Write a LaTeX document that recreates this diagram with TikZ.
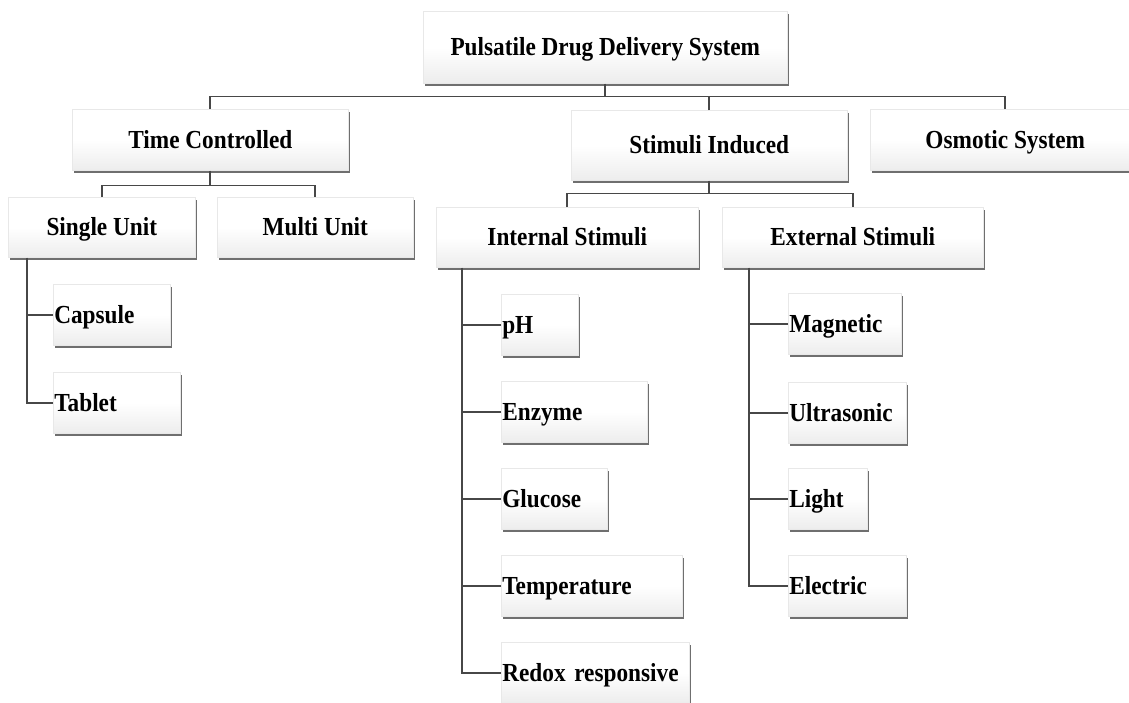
\documentclass[tikz,border=0pt]{standalone}
\usepackage{fontspec}
\setmainfont[FakeStretch=0.895]{Liberation Serif}
\usetikzlibrary{shadows}

\pgfdeclareverticalshading{boxshade}{100bp}{color(0bp)=(black!17); color(12bp)=(black!11); color(50bp)=(white); color(100bp)=(white)}
\definecolor{linegray}{HTML}{474747}

\tikzset{
  box/.style={anchor=north west, inner sep=0pt, shading=boxshade, draw=black!9, line width=0.6pt,
    font=\fontsize{26}{30}\selectfont\bfseries, text height=17pt, text depth=0pt,
    drop shadow={shadow xshift=1.3pt, shadow yshift=-2.4pt, fill=black!80, opacity=0.7}},
  leaf/.style={box, align=left, inner xsep=1pt},
  conn/.style={draw=linegray, line width=1.7pt}
}

% box of size w x h with its top-left corner at (x,y)
\newcommand{\mybox}[6]{\node[#1, minimum width=#4pt, minimum height=#5pt] (#2) at (#3) {#6};}
\newcommand{\myleaf}[6]{\node[leaf, minimum width=#4pt, minimum height=#5pt, text width=#4pt-2pt] (#2) at (#3) {#6};}

\begin{document}
\begin{tikzpicture}[x=1pt, y=-1pt]
\useasboundingbox[fill=white] (0,0) rectangle (1129,702);

% main levels
\mybox{box}{top}{423,11}{364}{72}{Pulsatile Drug Delivery System}
\mybox{box}{tc}{72,109}{276}{61}{Time Controlled}
\mybox{box}{si}{571,110}{276}{70}{Stimuli Induced}
\mybox{box}{osm}{870,109}{270}{61}{Osmotic System}

\mybox{box}{su}{8,197}{187}{60}{Single Unit}
\mybox{box}{mu}{217,197}{196}{60}{Multi Unit}
\mybox{box}{int}{436,207}{262}{60}{Internal Stimuli}
\mybox{box}{ext}{722,207}{261}{60}{External Stimuli}

% leaves under Single Unit
\myleaf{leaf}{cap}{53,284}{117}{61}{Capsule}
\myleaf{leaf}{tab}{53,372}{127}{61}{Tablet}

% leaves under Internal Stimuli
\myleaf{leaf}{ph}{501,294}{77}{61}{pH}
\myleaf{leaf}{enz}{501,381}{146}{61}{Enzyme}
\myleaf{leaf}{glu}{501,468}{106}{61}{Glucose}
\myleaf{leaf}{tem}{501,555}{181}{61}{Temperature}
\myleaf{leaf}{red}{501,642}{188}{61}{Redox responsive}

% leaves under External Stimuli
\myleaf{leaf}{mag}{788,293}{113}{61}{Magnetic}
\myleaf{leaf}{ult}{788,382}{118}{61}{Ultrasonic}
\myleaf{leaf}{lig}{788,468}{79}{61}{Light}
\myleaf{leaf}{ele}{788,555}{118}{61}{Electric}

% bus lines
\coordinate (busA) at (606,96.5);
\coordinate (busB) at (210,185.5);
\coordinate (busC) at (709,193.5);

\draw[conn] (top.south) -- (top.south |- busA);
\draw[conn] (tc.north) |- (busA);
\draw[conn] (osm.north) |- (busA);
\draw[conn] (si.north) -- (si.north |- busA);

\draw[conn] (tc.south) -- (tc.south |- busB);
\draw[conn] (su.north) |- (busB) -| (mu.north);

\draw[conn] (si.south) -- (si.south |- busC);
\draw[conn] (int.north) |- (busC) -| (ext.north);

% side trunks
\coordinate (suv) at ([xshift=19pt]su.south west);
\draw[conn] (suv) |- (tab.west);
\draw[conn] (cap.west) -- (cap.west -| suv);

\coordinate (intv) at ([xshift=26pt]int.south west);
\draw[conn] (intv) |- (red.west);
\foreach \n in {ph,enz,glu,tem} \draw[conn] (\n.west) -- (\n.west -| intv);

\coordinate (extv) at ([xshift=27pt]ext.south west);
\draw[conn] (extv) |- (ele.west);
\foreach \n in {mag,ult,lig} \draw[conn] (\n.west) -- (\n.west -| extv);
\end{tikzpicture}
\end{document}
